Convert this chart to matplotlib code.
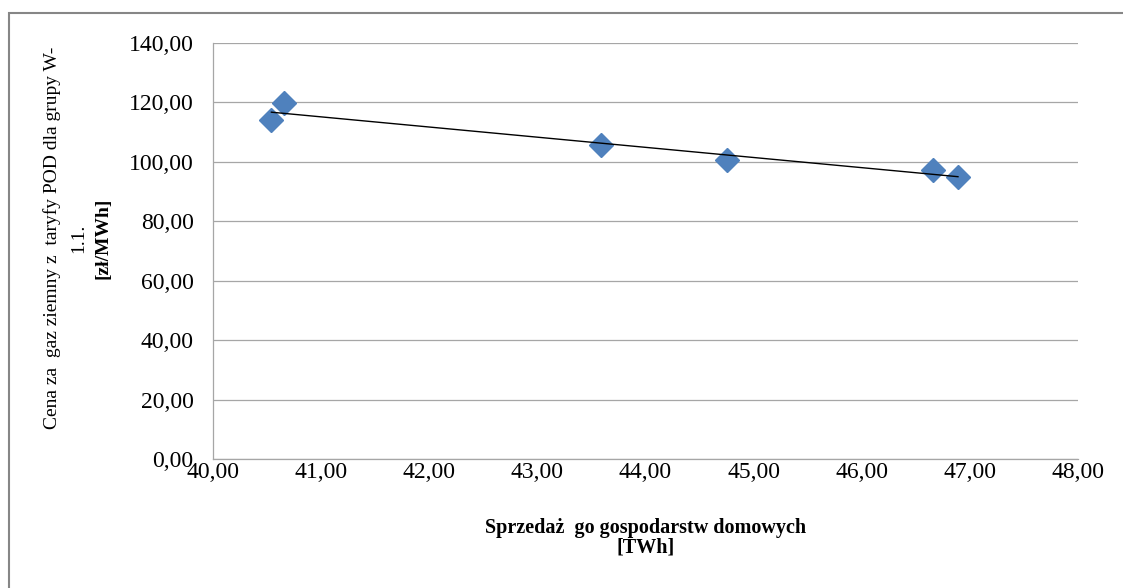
import numpy as np
import matplotlib.pyplot as plt
from matplotlib.patches import Rectangle
from matplotlib.ticker import FuncFormatter

# sprzedaz gazu gospodarstwom domowym [TWh] i cena z taryfy W-1.1 [zl/MWh]
sprzedaz = [40.54, 40.66, 43.59, 44.75, 46.66, 46.89]
cena = [114.1, 119.8, 105.7, 100.6, 97.3, 94.9]

x_ticks = [40, 41, 42, 43, 44, 45, 46, 47, 48]
y_ticks = [0, 20, 40, 60, 80, 100, 120, 140]

plt.rcParams['font.family'] = ['Liberation Serif', 'DejaVu Serif']

fig = plt.figure(figsize=(11.23, 5.88), dpi=100)
ax = fig.add_axes([0.1897, 0.2194, 0.7702, 0.7075])

# linia trendu (regresja liniowa)
a, b = np.polyfit(sprzedaz, cena, 1)
xs = np.array([min(sprzedaz), max(sprzedaz)])
ax.plot(xs, a * xs + b, color='black', linewidth=1.0, zorder=3)

ax.plot(sprzedaz, cena, linestyle='none', marker='D', markersize=12.5,
        color='#4F81BD', markeredgecolor='#4F81BD', zorder=2)

ax.set_xlim(40, 48)
ax.set_ylim(0, 140)
ax.set_xticks(x_ticks)
ax.set_yticks(y_ticks)
fmt = FuncFormatter(lambda v, p: f'{v:.2f}'.replace('.', ','))
ax.xaxis.set_major_formatter(fmt)
ax.yaxis.set_major_formatter(fmt)
ax.tick_params(axis='both', length=0, labelsize=17)
ax.tick_params(axis='y', pad=14)
ax.tick_params(axis='x', pad=2)

ax.yaxis.grid(True, color='#A6A6A6', linewidth=0.9)
ax.set_axisbelow(True)
for side in ['top', 'right']:
    ax.spines[side].set_visible(False)
for side in ['left', 'bottom']:
    ax.spines[side].set_color('#A6A6A6')
    ax.spines[side].set_linewidth(0.9)

fig.text(0.5745, 1 - 538 / 588, 'Sprzedaż  go gospodarstw domowych\n[TWh]',
         ha='center', va='center', fontsize=14.5, fontweight='bold',
         linespacing=0.95)

fig.text(52 / 1123, 1 - 238 / 588, 'Cena za  gaz ziemny z  taryfy POD dla grupy W-',
         rotation=90, ha='center', va='center', fontsize=14)
fig.text(79 / 1123, 1 - 238 / 588, '1.1.',
         rotation=90, ha='center', va='center', fontsize=14)
fig.text(103 / 1123, 1 - 238 / 588, '[zł/MWh]',
         rotation=90, ha='center', va='center', fontsize=14, fontweight='bold')

# ramka wykresu
fig.add_artist(Rectangle((9 / 1123, -0.5), 2, 1.5 - 13 / 588,
                         transform=fig.transFigure, fill=False,
                         edgecolor='#868686', linewidth=1.5))

fig.savefig('out.png', dpi=100)
